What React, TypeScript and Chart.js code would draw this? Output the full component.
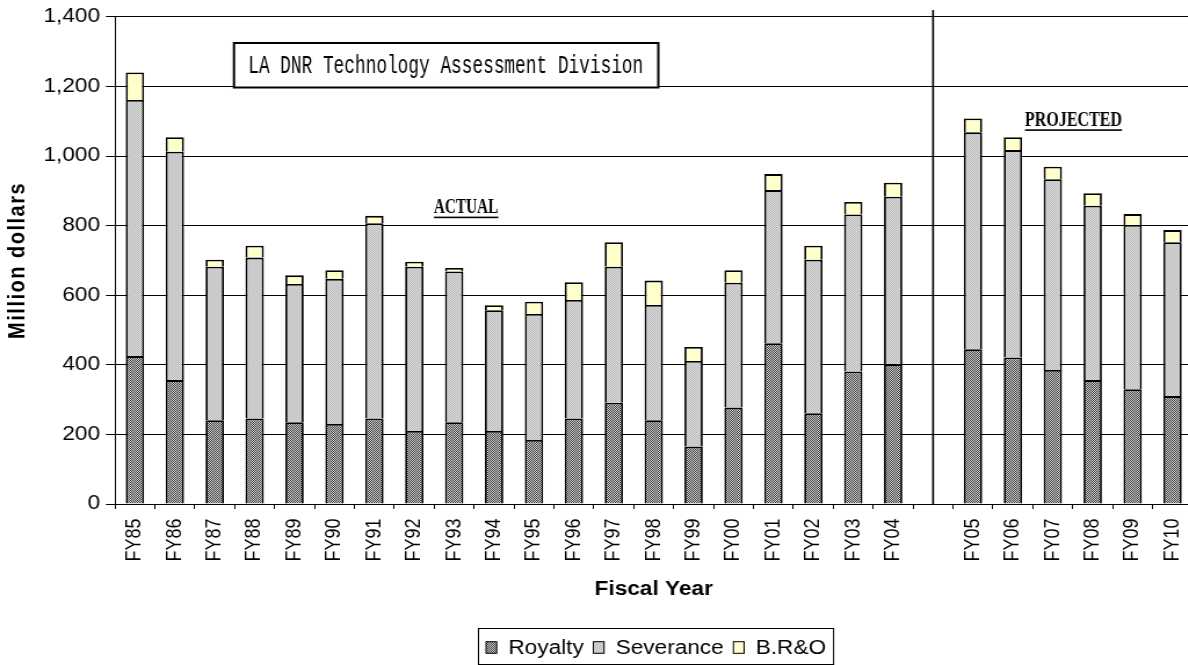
import React, { useEffect, useRef } from "react";
import { Chart, registerables } from "chart.js";

Chart.register(...registerables);

// ---- data ----
const categories = [
  "FY85", "FY86", "FY87", "FY88", "FY89", "FY90", "FY91", "FY92", "FY93", "FY94",
  "FY95", "FY96", "FY97", "FY98", "FY99", "FY00", "FY01", "FY02", "FY03", "FY04",
  "",
  "FY05", "FY06", "FY07", "FY08", "FY09", "FY10",
];
const royalty = [425, 356, 241, 246, 235, 230, 246, 210, 235, 210, 184, 246, 291, 241, 165, 277, 462, 261, 381, 402, null, 445, 421, 385, 356, 330, 310];
const severance = [736, 656, 441, 462, 397, 417, 561, 472, 433, 347, 362, 340, 391, 331, 246, 359, 440, 441, 451, 481, null, 623, 596, 548, 501, 472, 442];
const brao = [79, 42, 20, 34, 25, 25, 21, 14, 10, 14, 35, 51, 70, 70, 40, 36, 46, 40, 36, 40, null, 40, 37, 36, 36, 31, 35];
const seriesNames = ["Royalty", "Severance", "B.R&O"];
const yMin = 0;
const yMax = 1400;
const yStep = 200;
const boxText = "LA DNR Technology Assessment Division";
const actualText = "ACTUAL";
const projectedText = "PROJECTED";
const xTitle = "Fiscal Year";
const yTitle = "Million dollars";

// ---- layout (internal canvas px; canvas is stretched horizontally by SX) ----
const SX = 1.16;
const W = 1028;
const H = 665;
const SANS = '"Liberation Sans", Arial, sans-serif';

function makePattern(a: string, b: string) {
  const c = document.createElement("canvas");
  c.width = 2;
  c.height = 2;
  const g = c.getContext("2d")!;
  g.fillStyle = b;
  g.fillRect(0, 0, 2, 2);
  g.fillStyle = a;
  g.fillRect(0, 0, 1, 1);
  g.fillRect(1, 1, 1, 1);
  return g.createPattern(c, "repeat")!;
}

function fitText(ctx: CanvasRenderingContext2D, text: string, x: number, y: number, targetW: number, font: string) {
  ctx.font = font;
  const w = ctx.measureText(text).width;
  const h = targetW / w;
  ctx.save();
  ctx.translate(x, y);
  ctx.scale(h, 1);
  ctx.textAlign = "left";
  ctx.textBaseline = "alphabetic";
  ctx.fillText(text, 0, 0);
  ctx.restore();
}

export default function App() {
  const ref = useRef<HTMLCanvasElement>(null);

  useEffect(() => {
    const canvas = ref.current!;
    const ctx = canvas.getContext("2d")!;
    const royPat = makePattern("#3c3c3c", "#d4d4d4");
    const sevPat = makePattern("#bcbcbc", "#dadada");
    const fills = [royPat, sevPat, "#ffffcc"];
    const gapIndex = categories.indexOf("");

    const annot = {
      id: "annot",
      afterDraw(chart: any) {
        const { chartArea, scales } = chart;
        const c = chart.ctx as CanvasRenderingContext2D;
        c.save();
        c.fillStyle = "#000";
        c.strokeStyle = "#000";

        // vertical separator between actual and projected
        const xs = scales.x.getPixelForValue(gapIndex);
        c.lineWidth = 1.6;
        c.beginPath();
        c.moveTo(xs, 10);
        c.lineTo(xs, chartArea.bottom);
        c.stroke();

        // text box
        const bx1 = 201.7, bx2 = 567.5, by1 = 43, by2 = 87.5;
        c.fillStyle = "#fff";
        c.fillRect(bx1, by1, bx2 - bx1, by2 - by1);
        c.lineWidth = 2;
        c.strokeRect(bx1, by1, bx2 - bx1, by2 - by1);
        c.fillStyle = "#000";
        fitText(c, boxText, 214, 73, 340.5, '25px "Liberation Mono", "Courier New", monospace');

        // ACTUAL / PROJECTED
        const labs: [string, number, number, number][] = [
          [actualText, 374.1, 213.3, 55.5],
          [projectedText, 883.6, 126, 83.6],
        ];
        for (const [t, x, y, w] of labs) {
          fitText(c, t, x, y, w, 'bold 22px "Liberation Serif", serif');
          c.fillRect(x, y + 3.3, w, 1.6);
        }

        // y title
        c.save();
        c.translate(15.1, (chartArea.top + chartArea.bottom) / 2);
        c.rotate(-Math.PI / 2);
        c.font = `bold 20px ${SANS}`;
        (c as any).letterSpacing = "1.5px";
        c.textAlign = "center";
        c.textBaseline = "middle";
        c.fillText(yTitle, 0, 0);
        (c as any).letterSpacing = "0px";
        c.restore();

        // x title
        c.font = `bold 19.5px ${SANS}`;
        c.textAlign = "center";
        c.textBaseline = "alphabetic";
        c.fillText(xTitle, (chartArea.left + chartArea.right) / 2, 595);

        // legend
        c.font = `19.5px ${SANS}`;
        c.textAlign = "left";
        let x = 419;
        const lx1 = 412;
        const ly1 = 628, ly2 = 664;
        const items: { x: number; tx: number }[] = [];
        for (let i = 0; i < seriesNames.length; i++) {
          const tx = x + 9.2 + 10;
          items.push({ x, tx });
          x = tx + c.measureText(seriesNames[i]).width + 8.3;
        }
        const lx2 = x - 8.3 + 6;
        c.fillStyle = "#fff";
        c.fillRect(lx1, ly1, lx2 - lx1, ly2 - ly1);
        c.lineWidth = 1;
        c.strokeStyle = "#000";
        c.strokeRect(lx1 + 0.5, ly1 + 0.5, lx2 - lx1, ly2 - ly1);
        for (let i = 0; i < seriesNames.length; i++) {
          c.fillStyle = fills[i] as any;
          c.fillRect(items[i].x, 641.7, 9.2, 11.6);
          c.strokeRect(items[i].x, 641.7, 9.2, 11.6);
          c.fillStyle = "#000";
          c.fillText(seriesNames[i], items[i].tx, 654);
        }
        c.restore();
      },
    };

    Chart.defaults.font.family = SANS;
    const chart = new Chart(ctx, {
      type: "bar",
      data: {
        labels: categories,
        datasets: [
          { label: seriesNames[0], data: royalty as any, backgroundColor: royPat as any },
          { label: seriesNames[1], data: severance as any, backgroundColor: sevPat as any },
          { label: seriesNames[2], data: brao as any, backgroundColor: "#ffffcc" },
        ].map((d) => ({
          ...d,
          borderColor: "#000",
          borderWidth: 1.8,
          categoryPercentage: 1,
          barPercentage: 0.46,
        })),
      },
      options: {
        responsive: false,
        animation: false,
        events: [],
        layout: { padding: { left: 0, right: 0, top: 16.8, bottom: 0 } },
        plugins: {
          legend: { display: false },
          tooltip: { enabled: false },
          title: { display: false },
        },
        scales: {
          x: {
            stacked: true,
            offset: true,
            grid: {
              display: true,
              offset: true,
              drawOnChartArea: false,
              drawTicks: true,
              tickLength: 5,
              color: "#000",
              lineWidth: 1,
            },
            border: { display: true, color: "#000", width: 1 },
            ticks: {
              autoSkip: false,
              minRotation: 90,
              maxRotation: 90,
              padding: 9.5,
              color: "#000",
              font: { size: 18 },
            },
            afterFit: (s: any) => {
              s.height = 161;
              s.paddingLeft = 0;
              s.paddingRight = 0;
            },
          },
          y: {
            stacked: true,
            min: yMin,
            max: yMax,
            grid: { color: "#000", lineWidth: 1, tickLength: 7.8, drawTicks: true },
            border: { display: true, color: "#000", width: 1 },
            ticks: {
              stepSize: yStep,
              padding: 5,
              color: "#000",
              font: { size: 19.5 },
              callback: (v: any) => Number(v).toLocaleString("en-US"),
            },
            afterFit: (s: any) => {
              s.width = 99.1;
              s.paddingTop = 0;
              s.paddingBottom = 0;
            },
          },
        },
      },
      plugins: [annot],
    });
    return () => chart.destroy();
  }, []);

  return (
    <div
      style={{
        position: "fixed",
        left: 0,
        top: 0,
        width: 1188,
        height: 665,
        overflow: "hidden",
        background: "#fff",
      }}
    >
      <div style={{ width: W, height: H, transform: `scaleX(${SX})`, transformOrigin: "0 0" }}>
        <canvas ref={ref} width={W} height={H} style={{ display: "block", width: W, height: H }} />
      </div>
    </div>
  );
}
